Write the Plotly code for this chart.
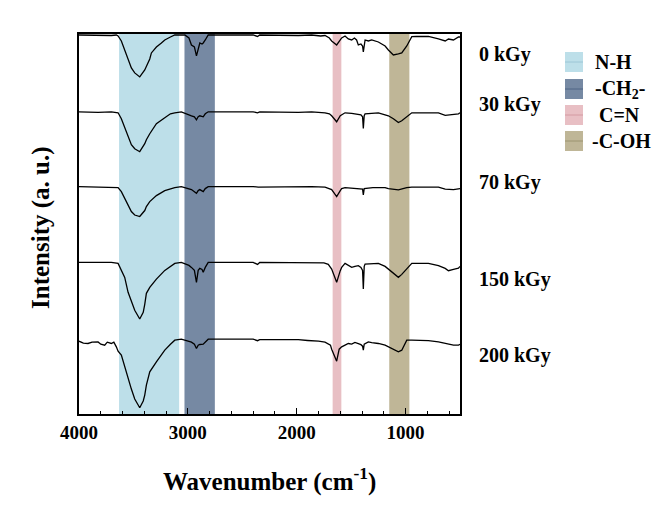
import plotly.graph_objects as go

# ---------------- data ----------------
doses = ["0 kGy", "30 kGy", "70 kGy", "150 kGy", "200 kGy"]
offsets = [380, 303, 228, 152, 75]   # baseline of each stacked spectrum (a.u.)

wn_0 = [4000, 3917, 3825, 3703, 3657, 3641, 3611, 3580, 3549, 3519, 3488, 3442, 3396, 3381, 3350, 3335,
        3289, 3243, 3212, 3160, 3120, 3028, 2990, 2967, 2940, 2921, 2905, 2890, 2870, 2859, 2840, 2813,
        2700, 2400, 2360, 2340, 1985, 1863, 1780, 1740, 1700, 1679, 1633, 1600, 1587, 1556, 1526, 1495,
        1470, 1450, 1434, 1410, 1395, 1388, 1380, 1372, 1342, 1311, 1250, 1188, 1158, 1112, 1066, 1035,
        989, 943, 900, 790, 698, 636, 606, 560, 514, 500]
dep_0 = [0, 0.3, 0, 0.5, 0, 1, 6, 15, 25, 33, 38, 42, 35, 31, 24, 18,
         12, 8, 5, 2, 0, 0, 3, 10, 12, 21, 13, 8, 9, 8, 5, 0,
         0, 0, 1.5, 0, 0.5, 0, 1, 0.5, 3, 6, 10, 5, 3, 1, 4, 5,
         3, 5, 10, 9, 11, 17, 8, 5, 6, 5, 7, 11, 15, 20, 19, 18,
         11, 1.7, 1.5, 1.5, 4, 6, 4, 5, 2, 2]

wn_30 = [4000, 3825, 3703, 3657, 3641, 3611, 3580, 3549, 3519, 3488, 3442, 3396, 3381, 3350, 3289, 3212,
         3160, 3120, 3060, 2967, 2940, 2921, 2905, 2890, 2859, 2840, 2813, 2445, 2400, 2360, 2340, 1985,
         1863, 1740, 1700, 1679, 1633, 1600, 1587, 1556, 1495, 1434, 1410, 1395, 1388, 1380, 1372, 1250,
         1188, 1158, 1112, 1066, 1035, 989, 943, 790, 698, 636, 560, 514, 500]
dep_30 = [0, 0.5, 0, 0.5, 1, 7, 16, 26, 33, 37, 40, 32, 28, 22, 12, 6,
          2, 1, 0, 4, 5, 8, 5, 4, 5, 2, 0, 0, 0, 1, 0, 0.5,
          0, 1, 2, 4, 10, 4, 3, 1, 1.5, 2.5, 3, 5, 16.7, 4, 2, 1,
          3, 4, 7, 10.7, 9, 5, 1, 1, 1, 3.5, 3, 2, 1]

wn_70 = [4000, 3703, 3641, 3611, 3580, 3549, 3519, 3488, 3442, 3396, 3381, 3350, 3289, 3212, 3120, 3060,
         2967, 2921, 2905, 2890, 2859, 2840, 2813, 2400, 2353, 1863, 1740, 1679, 1633, 1600, 1587, 1556,
         1495, 1434, 1395, 1388, 1380, 1300, 1188, 1158, 1066, 989, 943, 698, 636, 560, 514, 500]
dep_70 = [0, 0.5, 1, 5, 12, 19, 25, 28.5, 30, 24, 20, 15, 9, 4, 1, 0,
          3, 6.7, 4, 3, 5, 2, 0, 0, 0.5, 0, 0.5, 3, 10, 4, 2, 1,
          1.5, 2, 2.5, 8.3, 2, 1, 1, 2, 3.3, 1, 0.5, 0.5, 2.5, 3, 2, 2]

wn_150 = [4000, 3703, 3641, 3611, 3580, 3549, 3519, 3488, 3442, 3410, 3396, 3381, 3350, 3289, 3212, 3160,
          3120, 3060, 2990, 2967, 2940, 2921, 2905, 2890, 2870, 2859, 2840, 2813, 2400, 2360, 2340, 1750,
          1710, 1679, 1633, 1600, 1587, 1556, 1526, 1495, 1465, 1434, 1410, 1395, 1388, 1380, 1372, 1311,
          1250, 1188, 1158, 1112, 1066, 1035, 989, 943, 790, 698, 636, 606, 560, 514, 500]
dep_150 = [0, 0, 1, 8, 15, 30, 38, 48, 56.7, 50, 42, 31, 25, 16.7, 8, 4,
           1, 0, 3, 5, 8, 20, 8, 6, 7, 10, 5, 0, 0, 2, 0, 0.5,
           2, 6.7, 20, 8.3, 5, 1, 3, 5, 4, 3.3, 5, 8, 26.7, 4, 1.7, 1,
           1, 4, 6.7, 10, 15, 12, 6.7, 1, 1, 3.3, 6, 8.3, 7, 5.7, 4]

wn_200 = [4000, 3960, 3917, 3880, 3825, 3800, 3764, 3740, 3703, 3680, 3657, 3641, 3611, 3580, 3549, 3519,
          3488, 3442, 3410, 3396, 3381, 3350, 3289, 3243, 3212, 3160, 3120, 3060, 2967, 2940, 2921, 2905,
          2890, 2859, 2829, 2813, 2400, 2360, 2340, 1985, 1900, 1863, 1800, 1740, 1710, 1690, 1679, 1650,
          1633, 1610, 1587, 1556, 1526, 1495, 1465, 1434, 1410, 1395, 1388, 1380, 1342, 1311, 1250, 1188,
          1158, 1112, 1066, 1035, 989, 943, 790, 698, 636, 560, 514, 500]
dep_200 = [2, 4, 4.3, 3, 2.7, 5, 6, 3, 4.3, 3, 7.7, 12, 16, 28, 39, 50,
           60, 68.7, 62, 56, 46, 32.7, 22.7, 15, 11, 5, 1, 0, 3, 5, 9.3, 6,
           5.3, 5, 1, 0, 0, 1.5, 0.5, 0.5, 1.3, 1.5, 2, 3, 4.5, 6, 10, 18,
           22, 10, 7.7, 6, 4.3, 5, 3.3, 4.5, 5.5, 7, 11, 5, 2.7, 3.5, 4.3, 6,
           7.7, 10, 12.7, 11, 1, 1, 1.5, 2.7, 4.5, 6, 6, 5]

wavenumbers = [wn_0, wn_30, wn_70, wn_150, wn_200]
depths = [dep_0, dep_30, dep_70, dep_150, dep_200]

band_names = ["N-H", "-CH<sub>2</sub>-", "C=N", "-C-OH"]
band_lo = [3080, 2752, 1590, 965]
band_hi = [3632, 3031, 1670, 1150]
band_colors = ["#bddfe9", "#7689a3", "#e8bfc4", "#bfb697"]
band_line_colors = ["#9cc6d6", "#4f6585", "#d49aa2", "#9c9470"]

FONT = "Liberation Serif"

# page body has an 8px default margin; compensate so the plot area lands at the same pixels
BODY = 8
FIG_W, FIG_H = 664 - BODY, 521 - BODY
PL, PR, PT, PB = 79, 460, 34, 414          # plot area in window pixels
W, H = PR - PL, PB - PT

def px(x):
    return (x - PL) / W

def py(y):
    return (PB - y) / H

fig = go.Figure()

# spectra
for name, wn, dep, off in zip(doses, wavenumbers, depths, offsets):
    fig.add_trace(go.Scatter(x=wn, y=[off - d for d in dep], mode="lines", name=name,
                             line=dict(color="black", width=1.3), showlegend=False))

shapes = []
# bands
for lo, hi, col in zip(band_lo, band_hi, band_colors):
    shapes.append(dict(type="rect", xref="x", yref="paper", x0=lo, x1=hi, y0=0, y1=1,
                       fillcolor=col, line=dict(width=0), layer="below"))

annotations = []
label_y = [54, 104, 182, 279, 355]
for name, ly in zip(doses, label_y):
    annotations.append(dict(x=px(477), y=py(ly), xref="paper", yref="paper", text=name,
                            showarrow=False, xanchor="left", yanchor="middle",
                            font=dict(family=FONT, size=20, color="black", weight="bold")))

# custom legend
leg_y = [62, 89, 115, 141]
leg_tx = [593, 593, 597, 590]
for name, col, lcol, ly, tx in zip(band_names, band_colors, band_line_colors, leg_y, leg_tx):
    shapes.append(dict(type="rect", xref="paper", yref="paper", x0=px(565), x1=px(583),
                       y0=py(ly + 10), y1=py(ly - 10), fillcolor=col, line=dict(width=0)))
    shapes.append(dict(type="line", xref="paper", yref="paper", x0=px(565), x1=px(583),
                       y0=py(ly), y1=py(ly), line=dict(color=lcol, width=1)))
    annotations.append(dict(x=px(tx), y=py(ly), xref="paper", yref="paper", text=name,
                            showarrow=False, xanchor="left", yanchor="middle",
                            font=dict(family=FONT, size=20, color="black", weight="bold")))

# axis titles
annotations.append(dict(x=0.5, y=py(479), xref="paper", yref="paper",
                        text="Wavenumber (cm<sup>-1</sup>)", showarrow=False,
                        xanchor="center", yanchor="middle",
                        font=dict(family=FONT, size=25, color="black", weight="bold")))
annotations.append(dict(x=px(41), y=py(228), xref="paper", yref="paper",
                        text="Intensity (a. u.)", showarrow=False, textangle=-90,
                        xanchor="center", yanchor="middle",
                        font=dict(family=FONT, size=25, color="black", weight="bold")))

fig.update_layout(
    width=FIG_W, height=FIG_H,
    margin=dict(l=PL - BODY, r=664 - PR, t=PT - BODY, b=521 - PB, pad=0, autoexpand=False),
    paper_bgcolor="white", plot_bgcolor="white",
    showlegend=False,
    annotations=annotations,
    shapes=shapes,
)
fig.update_xaxes(range=[4000, 500], tickmode="linear", tick0=0, dtick=1000,
                 ticks="inside", ticklen=6, tickwidth=1.2, tickcolor="black",
                 minor=dict(ticks="inside", dtick=200, tick0=0, ticklen=3, tickwidth=1, tickcolor="black"),
                 showline=True, linecolor="black", linewidth=1.5, mirror=True,
                 showgrid=False, zeroline=False,
                 tickfont=dict(family=FONT, size=19, color="black", weight="bold"))
fig.update_yaxes(range=[0, 381], showticklabels=False, ticks="",
                 showline=True, linecolor="black", linewidth=1.5, mirror=True,
                 showgrid=False, zeroline=False)

fig.write_html("out.html")
